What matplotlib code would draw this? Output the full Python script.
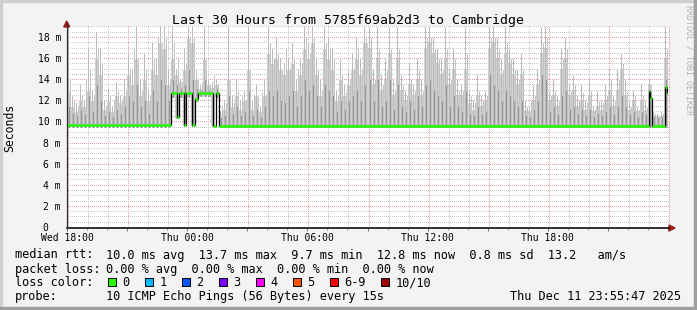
import numpy as np
import matplotlib.pyplot as plt
from matplotlib import transforms
from matplotlib.patches import Rectangle, Polygon
from matplotlib.lines import Line2D

plt.rcParams['font.family'] = ['DejaVu Sans Mono']

# smoke per 12 minute bin, Wed 18:00 -> Fri 00:00 (ms)
smoke_max = [19, 12.5, 11.8, 13.5, 12, 17, 13, 18.5, 17, 12,
             13.2, 11.5, 13.8, 12.5, 14, 16.5, 15, 19, 14, 16.5,
             13, 17.5, 16, 19, 19, 15, 19, 15, 14, 17,
             19, 19, 15, 13.5, 19, 14, 13.8, 14, 11, 12,
             19, 12.5, 14, 12, 13, 19, 12, 13.5, 11.5, 14,
             19, 17, 18, 16, 15.5, 16, 17.5, 14, 16, 19,
             17.5, 19, 16, 14, 19, 18, 17, 13, 16, 13.5,
             15, 16.5, 18, 16, 19, 19, 15, 19, 14.5, 16,
             19, 14, 19, 14.5, 13, 15.5, 13.5, 16, 14, 19,
             19, 18, 17, 16, 19, 15, 17, 14, 13.5, 19,
             13, 12, 14.5, 12.5, 13, 19, 19, 18, 16, 19,
             17, 16, 15, 16.5, 12, 11.5, 13.5, 15, 19, 19,
             13, 14, 12.5, 17, 18, 13.5, 14.5, 12.5, 13.5, 12,
             14, 11.5, 13, 12, 13.5, 15, 12.5, 15, 16.5, 14,
             12, 13, 11.5, 13.5, 12, 14, 11, 10.8, 11, 19]

# second ping spikes, half a bin later
smoke_mid = [14, 12, 11.5, 12.5, 14, 15, 12.5, 17, 15.5, 11.5,
             12.5, 12, 13, 12, 13, 15, 17, 15.5, 13, 15,
             12.5, 16, 18, 16.5, 18, 14, 17.5, 16, 13.5, 15.5,
             17.5, 18, 14, 13.8, 15, 13.5, 14.5, 13.6, 11.5, 11.8,
             13, 11.8, 13, 12.5, 12, 14, 12.5, 12, 12.8, 12.5,
             17.5, 16, 16.5, 15, 17, 15, 16, 15, 15.5, 18,
             16.5, 18, 15, 13, 17.5, 17, 16, 12.5, 14.5, 12.8,
             14, 15, 17, 15, 18, 18, 14, 17, 13.5, 15,
             17, 13, 17, 13.5, 12.5, 14, 13, 15, 13, 18,
             18, 17, 16, 15, 17, 14, 16, 13, 13, 16.5,
             12.5, 11.8, 13, 12, 12.5, 18, 18, 17, 15, 17.5,
             16, 15, 14, 15, 11.5, 12, 12.5, 14, 17.5, 18,
             12.5, 13, 12, 16, 17, 13, 13.5, 12, 12.8, 11.8,
             13, 11.2, 12, 11.8, 12.5, 14, 12, 14, 15.5, 13,
             11.5, 12.5, 11.2, 12.5, 11.5, 13, 10.8, 10.6, 10.8, 17]

smoke_body = [13, 11.5, 11, 12, 11.5, 13, 12, 16, 14.5, 11.2,
              12, 11, 12.5, 11.8, 12.5, 14.5, 13.5, 16, 12.5, 14,
              12, 15, 14.5, 17.5, 17, 13.5, 16, 14.5, 13.8, 15,
              18, 17.5, 14, 13.2, 16, 13.5, 13.3, 13.5, 10.8, 11.2,
              14, 11.5, 12.5, 11.2, 12, 15, 11.2, 12.5, 11, 12.5,
              16.5, 15.5, 16, 15, 14.5, 15, 15.5, 13, 14.5, 17,
              16, 17.5, 14.5, 12.5, 17, 16, 15, 12, 14, 12.5,
              13.5, 15, 16, 14.5, 17.5, 17, 13.5, 16, 13, 14,
              16.5, 12.5, 16, 13, 12, 13.5, 12.5, 14, 12.5, 17,
              17.5, 16.5, 15.5, 14.5, 16, 13.5, 15, 12.5, 12.5, 15,
              11.8, 11.2, 12.5, 11.5, 12, 17, 17.5, 16, 14.5, 16.5,
              15.5, 14.5, 13.5, 14.5, 11.2, 11, 12, 13.5, 16.5, 17,
              12, 12.5, 11.5, 15, 16, 12.5, 13, 11.5, 12, 11.2,
              12.5, 11, 11.5, 11.2, 12, 13, 11.5, 13, 15, 12.5,
              11.2, 12, 11, 12, 11.2, 13.5, 10.6, 10.5, 10.6, 16]

smoke_dark = [11.5, 10.8, 10.6, 11.2, 10.7, 12.5, 11, 13.5, 12, 10.6,
              11, 10.5, 11.2, 10.8, 11.5, 12.5, 12, 13.5, 11.5, 12,
              10.8, 13, 12, 14, 13.5, 12, 14, 13.5, 13.2, 13.5,
              15, 14, 13.2, 13, 14, 13, 12.5, 13.2, 10.4, 10.6,
              12.5, 10.8, 11.5, 10.6, 11, 13, 10.6, 11.2, 10.5, 11.5,
              13, 12.5, 13, 12, 11.8, 12.5, 13, 11.5, 12.5, 14,
              13, 13.5, 12.5, 11.5, 13.5, 13, 12.5, 11, 12, 11.2,
              12, 12.5, 13, 12, 13.5, 14, 12, 14, 11.5, 12,
              14, 11.2, 13.5, 11.5, 11, 12, 11.2, 12.5, 11.5, 13.5,
              14, 13, 12.5, 12, 13.5, 11.5, 12.5, 11.5, 11, 13,
              10.8, 10.6, 11.5, 10.7, 11, 14.5, 13.5, 13, 12, 13,
              12.5, 12, 11.5, 12, 10.6, 10.5, 11.2, 12, 14.5, 14,
              11, 11.5, 10.7, 12.5, 13, 11.2, 11.5, 10.8, 11.2, 10.6,
              11.2, 10.5, 10.8, 10.6, 11, 11.5, 10.7, 11.5, 12.5, 11.5,
              10.7, 11, 10.5, 11, 10.7, 13, 10.5, 10.4, 10.5, 14]

smoke_min = [9.6] * 26 + [12.4, 10.4, 12.4, 9.7, 12.4, 9.7, 12.0, 12.5, 12.5, 12.5, 9.7, 12.4] + [9.6] * 112

# median rtt steps (hours since Wed 18:00, ms)
median_hours = [0.0, 5.2, 5.5, 5.6, 5.85, 5.95, 6.25, 6.4, 6.55, 7.3, 7.45, 7.6,
                29.05, 29.12, 29.2, 29.85, 29.93, 30.0]
median_ms = [9.75, 12.8, 10.5, 12.8, 9.8, 12.8, 9.8, 12.2, 12.8, 9.7, 12.8, 9.7,
             13.0, 12.3, 9.7, 13.4, 12.8, 12.8]

x_ticks = [0, 6, 12, 18, 24]
x_labels = ['Wed 18:00', 'Thu 00:00', 'Thu 06:00', 'Thu 12:00', 'Thu 18:00']
y_ticks = [0, 2, 4, 6, 8, 10, 12, 14, 16, 18]
y_labels = ['0  ', '2 m', '4 m', '6 m', '8 m', '10 m', '12 m', '14 m', '16 m', '18 m']

loss_labels = ['0', '1', '2', '3', '4', '5', '6-9', '10/10']
loss_colors = ['#26ff00', '#00b8ff', '#0059ff', '#7e00ff', '#ff00ff', '#ff5500', '#ff0000', '#a10000']

W, H = 697, 310
fig = plt.figure(figsize=(W / 100, H / 100), dpi=100, facecolor='#f3f3f3')
px = transforms.Affine2D().scale(1 / W, -1 / H).translate(0, 1) + fig.transFigure
ident = transforms.IdentityTransform()

ax = fig.add_axes([67 / W, 1 - 228 / H, 601 / W, (228 - 27.4) / H])
ax.set_facecolor('none')
for s in ax.spines.values():
    s.set_visible(False)
ax.set_xlim(0, 30)
ax.set_ylim(0, 19)

# dotted rrdtool style grid, single pixel dots underneath the smoke
x0, y0 = ax.transData.transform((0, 0))
x1, y1 = ax.transData.transform((30, 19))
x0, y0, x1, y1 = int(round(x0)), int(round(y0)), int(round(x1)), int(round(y1))
fig.add_artist(Rectangle((x0, y0), x1 - x0 + 1, y1 - y0 + 1, transform=ident,
                         facecolor='white', edgecolor='none', zorder=-3))
for major in (False, True):
    col = '#e4a0a0' if major else '#c8c8c8'
    gx, gy = [], []
    for v in np.arange(0, 19.01, 0.5):
        if (v % 2 == 0) == major:
            r = int(round(ax.transData.transform((0, v))[1]))
            xs = np.arange(x0, x1 + 1, 2)
            gx.extend(xs + 0.5)
            gy.extend([r + 0.5] * len(xs))
    for h in range(31):
        if (h % 3 == 0) == major:
            c = int(round(ax.transData.transform((h, 0))[0]))
            ys = np.arange(y0, y1 + 1, 2)
            gx.extend([c + 0.5] * len(ys))
            gy.extend(ys + 0.5)
    fig.add_artist(Line2D(gx, gy, transform=ident, ls='none', marker=',', color=col,
                          markeredgewidth=0, zorder=-2 if not major else -1))

# smoke
edges = np.linspace(0, 30, len(smoke_max) + 1)
centers = edges[:-1] + 0.05
ax.stairs(smoke_body, edges, baseline=smoke_min, fill=True, color='#d0d0d0', zorder=1)
ax.vlines(centers, smoke_min, smoke_max, colors='#bababa', lw=0.72, antialiased=False, zorder=1.5)
ax.vlines(centers + 0.1, smoke_min, smoke_mid, colors='#c2c2c2', lw=0.72, antialiased=False, zorder=1.5)
ax.vlines(centers + 0.05, smoke_min, smoke_dark, colors='#969696', lw=0.72, antialiased=False, zorder=2)

# median
ax.step(median_hours, median_ms, where='post', color='black', lw=0.9, zorder=5)
ax.hlines(median_ms[:-1], median_hours[:-1], median_hours[1:], colors=loss_colors[0], lw=1.8, zorder=6)

ax.set_xticks(range(0, 31, 3))
ax.set_xticks(range(31), minor=True)
ax.set_yticks([])
ax.tick_params(axis='x', which='major', length=2.2, width=0.72, color='#777777', labelbottom=False)
ax.tick_params(axis='x', which='minor', length=1.5, width=0.72, color='#999999')

# axes + arrows
fig.add_artist(Line2D([67, 669], [228, 228], transform=px, color='black', lw=1.1))
fig.add_artist(Line2D([66.7, 66.7], [228, 23], transform=px, color='#2c2c2c', lw=0.9))
fig.add_artist(Polygon([[669, 225], [669, 231], [675, 228]], closed=True, transform=px, color='#9e1b1b'))
fig.add_artist(Polygon([[63.7, 27], [69.7, 27], [66.7, 21]], closed=True, transform=px, color='#9e1b1b'))

xt = transforms.blended_transform_factory(ax.transData, px)
for t, lab in zip(x_ticks, x_labels):
    ax.text(t, 241, lab, transform=xt, ha='center', va='baseline', fontsize=7.05)
yt = transforms.blended_transform_factory(px, ax.transData)
for v, lab in zip(y_ticks, y_labels):
    ax.text(61, v, lab, transform=yt, ha='right', va='center', fontsize=7.05)

fig.text(347.8, 24, 'Last 30 Hours from 5785f69ab2d3 to Cambridge', transform=px,
         ha='center', va='baseline', fontsize=9.55)
fig.text(10, 128, 'Seconds', transform=px, rotation=90, ha='center', va='center', fontsize=8.3)
fig.text(688.5, 5, 'RRDTOOL / TOBI OETIKER', transform=px, rotation=270,
         ha='center', va='top', fontsize=6.0, color='#b4b4b4')

# legend
fs = 8.6
fig.text(15, 258.5, 'median rtt:', transform=px, fontsize=fs, va='baseline')
fig.text(106.5, 258.5, '10.0 ms avg  13.7 ms max  9.7 ms min  12.8 ms now  0.8 ms sd  13.2   am/s',
         transform=px, fontsize=fs, va='baseline')
fig.text(15, 272.5, 'packet loss:', transform=px, fontsize=fs, va='baseline')
fig.text(106.5, 272.5, '0.00 % avg  0.00 % max  0.00 % min  0.00 % now',
         transform=px, fontsize=fs, va='baseline')
fig.text(15, 286.5, 'loss color:', transform=px, fontsize=fs, va='baseline')
x = 108.3
for lab, col in zip(loss_labels, loss_colors):
    fig.add_artist(Rectangle((x, 278.3), 7.7, 7.7, transform=px, facecolor=col,
                             edgecolor='black', lw=0.72))
    fig.text(x + 14.2, 286.5, lab, transform=px, fontsize=fs, va='baseline')
    x += 15 + len(lab) * 7.17 + 14.8
fig.text(15, 300.3, 'probe:', transform=px, fontsize=fs, va='baseline')
fig.text(106.5, 300.3, '10 ICMP Echo Pings (56 Bytes) every 15s', transform=px, fontsize=fs, va='baseline')
fig.text(681, 300.3, 'Thu Dec 11 23:55:47 2025', transform=px, fontsize=fs, va='baseline', ha='right')

# frame shading
fig.add_artist(Rectangle((0, 0), W, 2, transform=px, color='#cfcfcf'))
fig.add_artist(Rectangle((0, 0), 2, H, transform=px, color='#cfcfcf'))
fig.add_artist(Rectangle((W - 3, 0), 3, H, transform=px, color='#9e9e9e'))
fig.add_artist(Rectangle((0, H - 3), W, 3, transform=px, color='#9e9e9e'))

plt.savefig('out.png', dpi=100, facecolor=fig.get_facecolor())
